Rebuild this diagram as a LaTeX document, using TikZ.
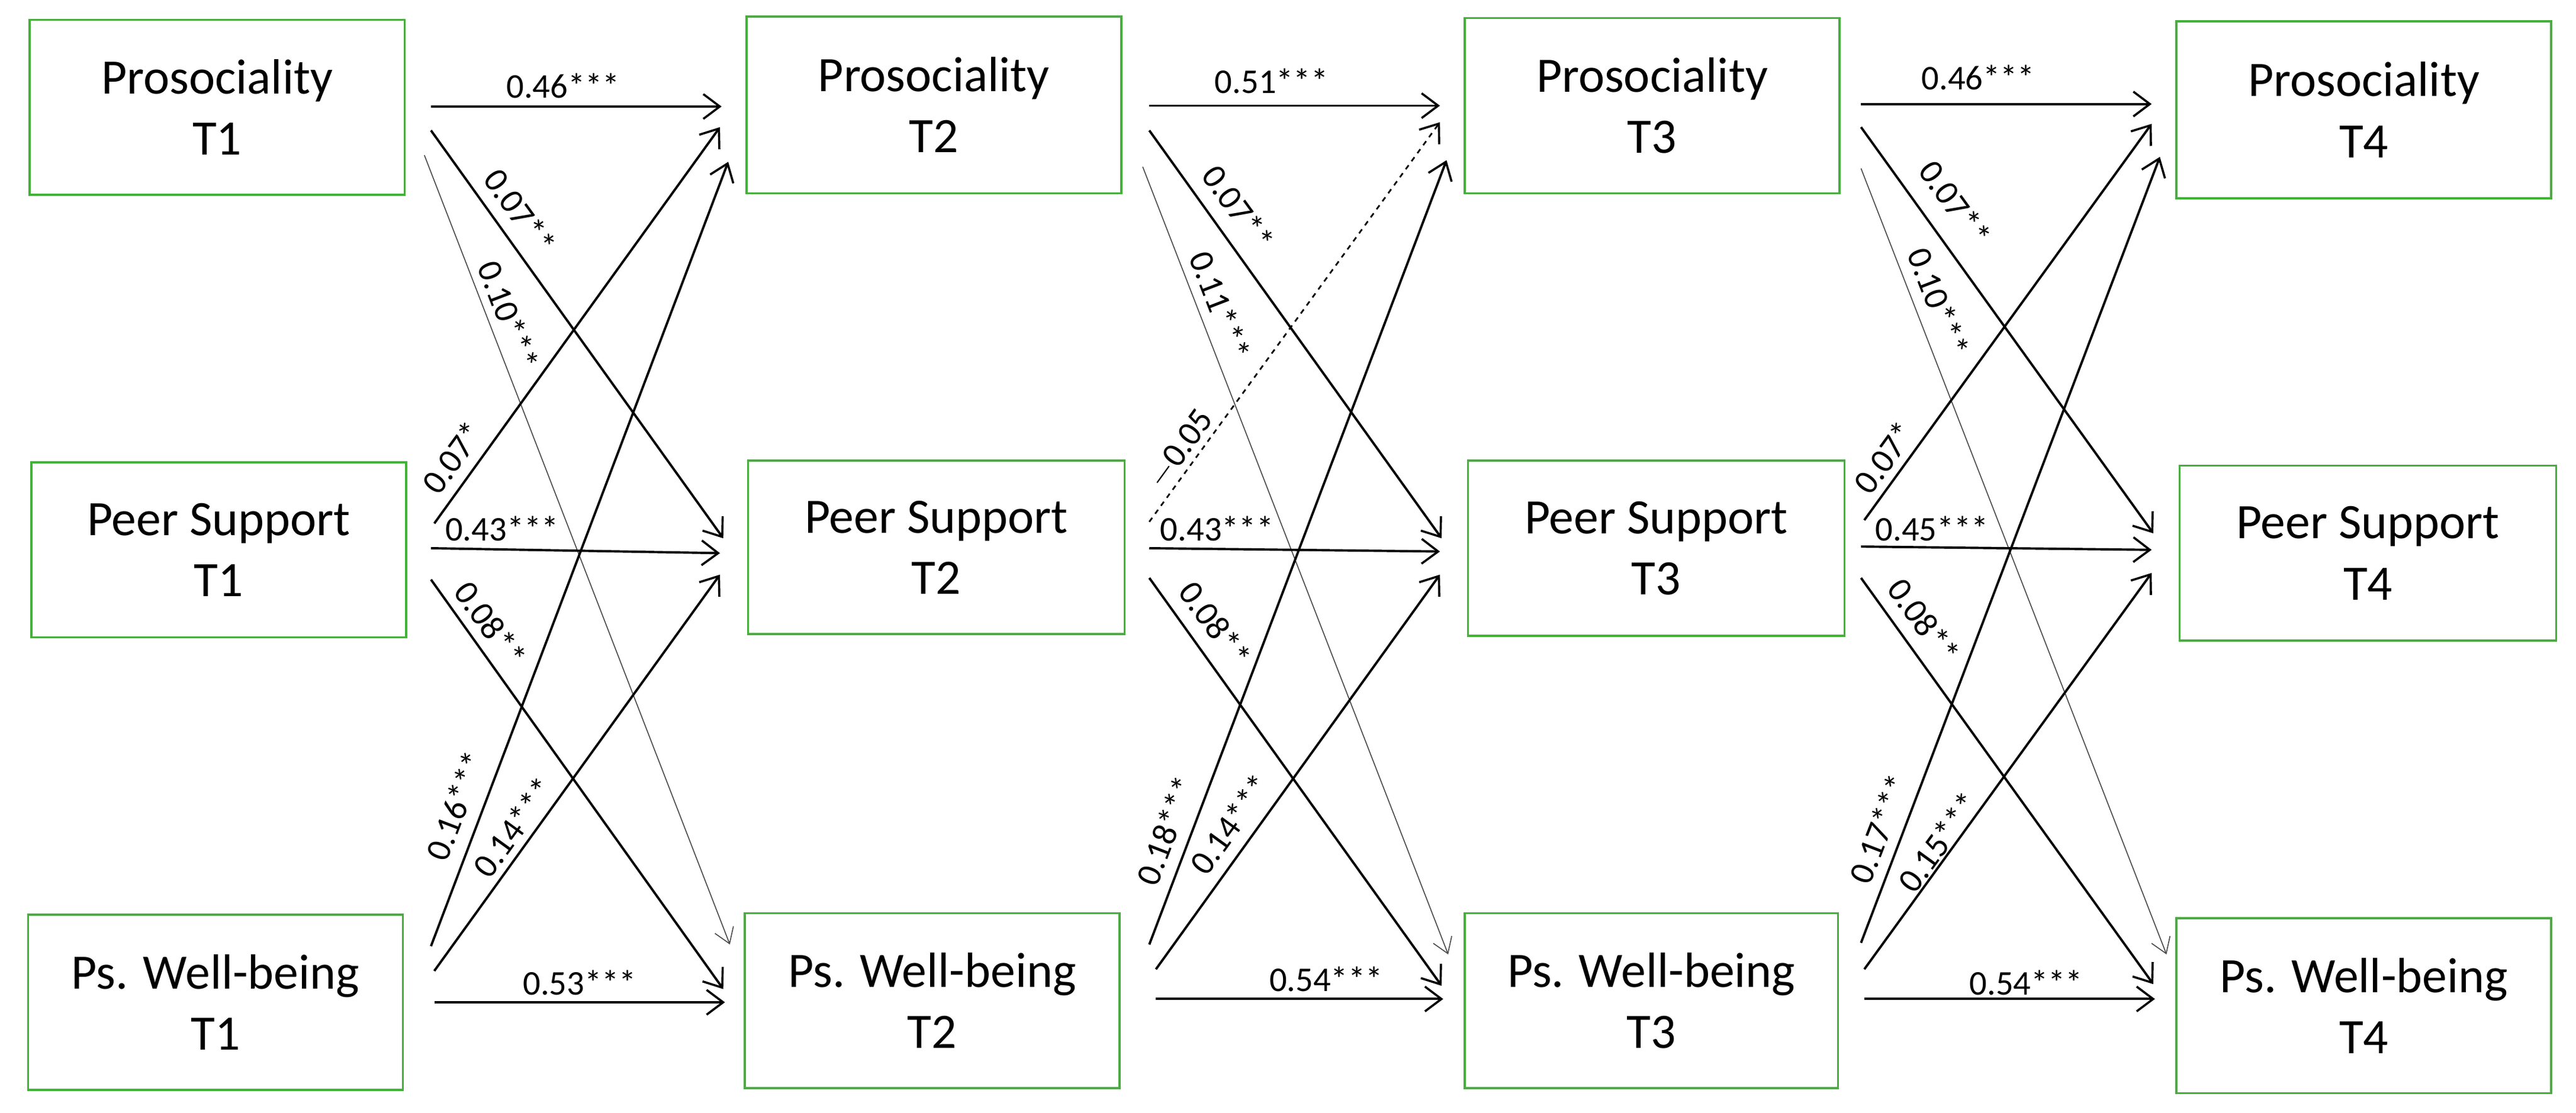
\documentclass[tikz,border=0pt]{standalone}
\usepackage{fontspec}
\setmainfont{Carlito}
\usetikzlibrary{arrows.meta}
\definecolor{boxg}{RGB}{70,175,60}
\begin{document}
\begin{tikzpicture}[x=1pt,y=-1pt,
  box/.style={draw=boxg,line width=1.3pt,align=center,inner sep=0pt,font=\fontsize{30}{37}\selectfont},
  arr/.style={line width=1.4pt,-{Straight Barb[length=10pt,width=15pt,line width=1.3pt]}},
  thin/.style={line width=0.6pt,draw=black!70,-{Straight Barb[length=9pt,width=12pt,line width=0.6pt]}},
  lab/.style={font=\fontsize{21}{24}\selectfont,inner sep=0pt}]
\useasboundingbox (0,0) rectangle (1560,674);
\newcommand{\bx}[5]{\node[box,minimum width=#4-#2,minimum height=#5-#3] (#1) at ({(#2+#4)/2},{(#3+#5)/2})}
\bx{p1}{18}{12}{245}{118} {Prosociality\\T1};
\bx{s1}{19}{280}{246}{386} {Peer Support\\T1};
\bx{w1}{17}{554}{244}{660} {Ps. Well-being\\T1};
\bx{p2}{452}{10}{679}{117} {Prosociality\\T2};
\bx{s2}{453}{279}{681}{384} {Peer Support\\T2};
\bx{w2}{451}{553}{678}{659} {Ps. Well-being\\T2};
\bx{p3}{887}{11}{1114}{117} {Prosociality\\T3};
\bx{s3}{889}{279}{1117}{385} {Peer Support\\T3};
\bx{w3}{887}{553}{1113}{659} {Ps. Well-being\\T3};
\bx{p4}{1318}{13}{1545}{120} {Prosociality\\T4};
\bx{s4}{1320}{282}{1548}{388} {Peer Support\\T4};
\bx{w4}{1318}{556}{1545}{662} {Ps. Well-being\\T4};
% column 1 -> 2
\draw[arr] (261,64.5) coordinate (a1) -- (437,64.5) coordinate (b1);
\draw[arr] (261,79) coordinate (a2) -- (438,326) coordinate (b2);
\draw[thin] (257,94) coordinate (a3) -- (442,572) coordinate (b3);
\draw[arr] (263,317) coordinate (a4) -- (436,77) coordinate (b4);
\draw[arr] (261,332) coordinate (a5) -- (436,335) coordinate (b5);
\draw[arr] (261,351) coordinate (a6) -- (438,599) coordinate (b6);
\draw[arr] (261,573) coordinate (a7) -- (441,98) coordinate (b7);
\draw[arr] (263,588) coordinate (a8) -- (436,348) coordinate (b8);
\draw[arr] (263,607) coordinate (a9) -- (439,607) coordinate (b9);
\node[lab] (l1) at (341,52) {0.46***};
\node[lab,rotate=-54] (l2) at (315,128) {0.07**};
\node[lab,rotate=-69] (l3) at (308,191) {0.10***};
\node[lab,rotate=54] (l4) at (274,277) {0.07*};
\node[lab] (l5) at (304,320) {0.43***};
\node[lab,rotate=-54] (l6) at (297,378) {0.08**};
\node[lab,rotate=69] (l7) at (276,488) {0.16***};
\node[lab,rotate=54] (l8) at (311,501) {0.14***};
\node[lab] (l9) at (351,595) {0.53***};
% column 2 -> 3
\draw[arr] (696,64) coordinate (c1) -- (872,64) coordinate (d1);
\draw[arr] (696,79) coordinate (c2) -- (873,326) coordinate (d2);
\draw[thin] (692,101) coordinate (c3) -- (877,578) coordinate (d3);
\draw[arr,dashed,line width=1pt] (696,316) coordinate (c4) -- (872,74) coordinate (d4);
\draw[arr] (696,332) coordinate (c5) -- (872,334) coordinate (d5);
\draw[arr] (696,350) coordinate (c6) -- (873,597) coordinate (d6);
\draw[arr] (696,572) coordinate (c7) -- (876,97) coordinate (d7);
\draw[arr] (700,587) coordinate (c8) -- (872,348) coordinate (d8);
\draw[arr] (700,605) coordinate (c9) -- (874,605) coordinate (d9);
\node[lab] (m1) at (770,49) {0.51***};
\node[lab,rotate=-54] (m2) at (750,126) {0.07**};
\node[lab,rotate=-69] (m3) at (739,185) {0.11***};
\node[lab,rotate=54] (m4) at (715,272) {$-$0.05};
\node[lab] (m5) at (737,320) {0.43***};
\node[lab,rotate=-54] (m6) at (736,378) {0.08**};
\node[lab,rotate=69] (m7) at (706,503) {0.18***};
\node[lab,rotate=54] (m8) at (745,499) {0.14***};
\node[lab] (m9) at (803,593) {0.54***};
% column 3 -> 4
\draw[arr] (1127,63) coordinate (e1) -- (1303,63) coordinate (f1);
\draw[arr] (1127,77) coordinate (e2) -- (1304,323) coordinate (f2);
\draw[thin] (1127,102) coordinate (e3) -- (1312,578) coordinate (f3);
\draw[arr] (1129,315) coordinate (e4) -- (1303,75) coordinate (f4);
\draw[arr] (1127,331) coordinate (e5) -- (1303,333) coordinate (f5);
\draw[arr] (1127,350) coordinate (e6) -- (1304,596) coordinate (f6);
\draw[arr] (1127,571) coordinate (e7) -- (1308,95) coordinate (f7);
\draw[arr] (1129,587) coordinate (e8) -- (1303,347) coordinate (f8);
\draw[arr] (1129,605) coordinate (e9) -- (1305,605) coordinate (f9);
\node[lab] (n1) at (1198,47) {0.46***};
\node[lab,rotate=-54] (n2) at (1184,123) {0.07**};
\node[lab,rotate=-69] (n3) at (1174,183) {0.10***};
\node[lab,rotate=54] (n4) at (1141,277) {0.07*};
\node[lab] (n5) at (1170,320) {0.45***};
\node[lab,rotate=-54] (n6) at (1165,376) {0.08**};
\node[lab,rotate=69] (n7) at (1138,502) {0.17***};
\node[lab,rotate=54] (n8) at (1174,510) {0.15***};
\node[lab] (n9) at (1227,595) {0.54***};
\end{tikzpicture}
\end{document}
